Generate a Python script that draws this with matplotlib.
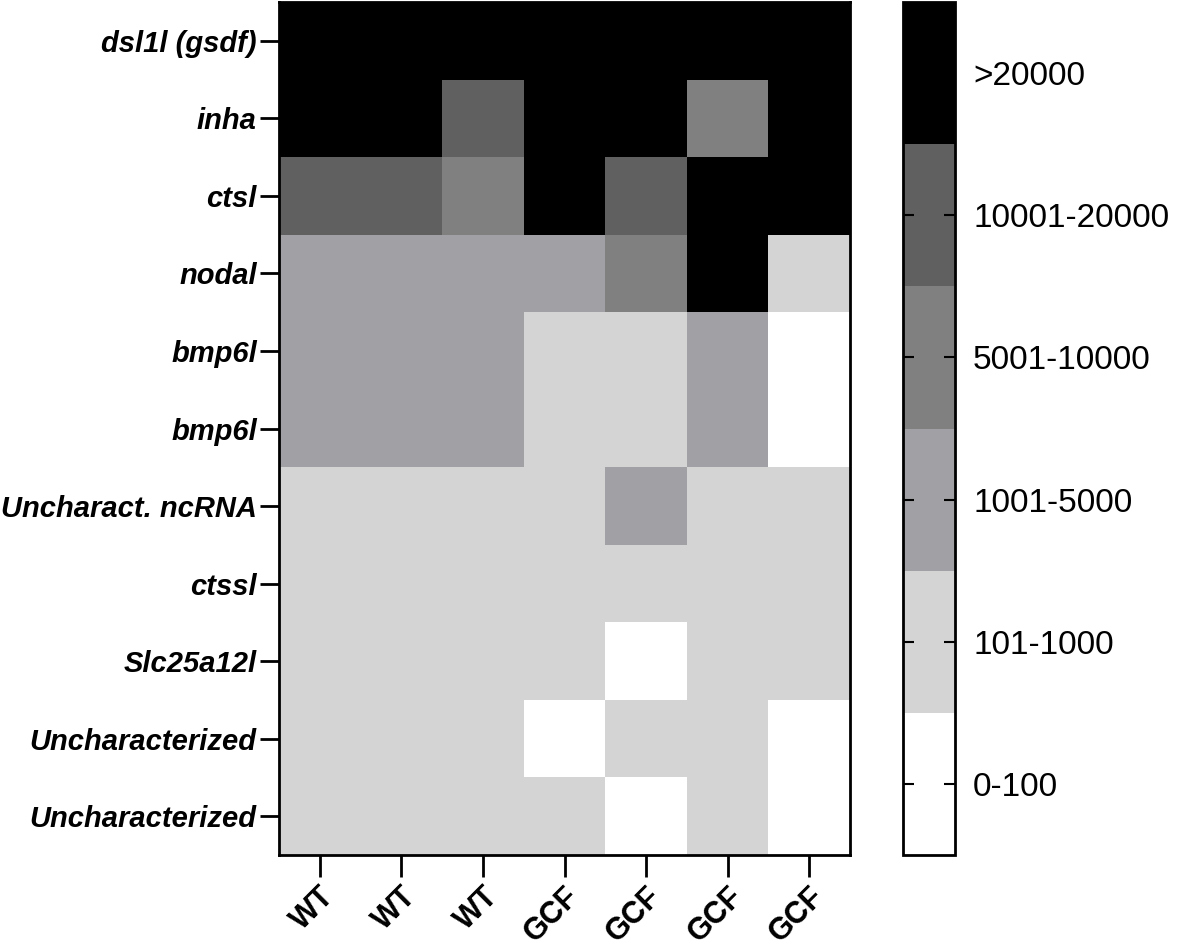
import numpy as np
import matplotlib.pyplot as plt
from matplotlib.colors import ListedColormap, BoundaryNorm

plt.rcParams['font.family'] = ['Liberation Sans', 'DejaVu Sans']

genes = ['dsl1l (gsdf)', 'inha', 'ctsl', 'nodal', 'bmp6l', 'bmp6l',
         'Uncharact. ncRNA', 'ctssl', 'Slc25a12l', 'Uncharacterized', 'Uncharacterized']
samples = ['WT', 'WT', 'WT', 'GCF', 'GCF', 'GCF', 'GCF']
bins = ['0-100', '101-1000', '1001-5000', '5001-10000', '10001-20000', '>20000']

# expression class per gene (rows) and sample (columns), index into bins
levels = [
    [5, 5, 5, 5, 5, 5, 5],
    [5, 5, 4, 5, 5, 3, 5],
    [4, 4, 3, 5, 4, 5, 5],
    [2, 2, 2, 2, 3, 5, 1],
    [2, 2, 2, 1, 1, 2, 0],
    [2, 2, 2, 1, 1, 2, 0],
    [1, 1, 1, 1, 2, 1, 1],
    [1, 1, 1, 1, 1, 1, 1],
    [1, 1, 1, 1, 0, 1, 1],
    [1, 1, 1, 0, 1, 1, 0],
    [1, 1, 1, 1, 0, 1, 0],
]

colors = ['#ffffff', '#d4d4d4', '#a1a1a5', '#808080', '#606060', '#000000']
cmap = ListedColormap(colors)
norm = BoundaryNorm(np.arange(-0.5, len(bins) + 0.5), cmap.N)

fig = plt.figure(figsize=(11.81, 9.47), dpi=100)
ax = fig.add_axes([279 / 1181, 1 - 855 / 947, 571 / 1181, 853 / 947])
cax = fig.add_axes([903 / 1181, 1 - 855 / 947, 52 / 1181, 853 / 947])

data = np.array(levels)
mesh = ax.pcolormesh(data, cmap=cmap, norm=norm)
ax.set_xlim(0, len(samples))
ax.set_ylim(len(genes), 0)

ax.set_yticks(np.arange(len(genes)) + 0.5)
ax.set_yticklabels(genes, fontsize=21, fontweight='bold', fontstyle='italic')
ax.set_xticks(np.arange(len(samples)) + 0.5)
ax.set_xticklabels(samples, fontsize=22, fontweight='bold', rotation=45,
                   ha='right', rotation_mode='anchor')
ax.tick_params(axis='y', length=14, width=2, pad=2)
ax.tick_params(axis='x', length=16, width=2, pad=3)
for s in ax.spines.values():
    s.set_linewidth(2)

cb = fig.colorbar(mesh, cax=cax, ticks=np.arange(len(bins)))
cb.set_ticklabels(bins)
cb.minorticks_off()
cax.tick_params(labelsize=24, length=8, width=1.5, direction='in',
                left=True, right=True, pad=13)
cb.outline.set_linewidth(2)

plt.savefig('out.png', dpi=100)
